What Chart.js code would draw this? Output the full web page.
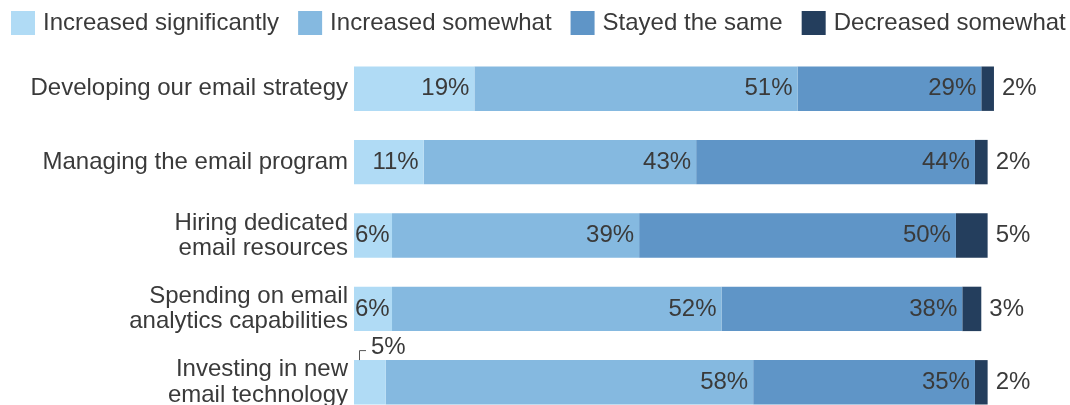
<!DOCTYPE html>
<html>
<head>
<meta charset="utf-8">
<title>Email program changes</title>
<script src="https://cdn.jsdelivr.net/npm/chart.js@4.4.1/dist/chart.umd.min.js"></script>
<style>
  html, body { margin: 0; padding: 0; background: #fff; overflow: hidden; }
  canvas { display: block; }
</style>
</head>
<body>
<canvas id="emailChart" width="1070" height="425" style="width:1070px;height:425px"></canvas>
<script>
const categories = [
  ["Developing our email strategy"],
  ["Managing the email program"],
  ["Hiring dedicated", "email resources"],
  ["Spending on email", "analytics capabilities"],
  ["Investing in new", "email technology"],
];
const seriesNames = ["Increased significantly", "Increased somewhat", "Stayed the same", "Decreased somewhat"];
const increasedSignificantly = [19, 11, 6, 6, 5];
const increasedSomewhat = [51, 43, 39, 52, 58];
const stayedTheSame = [29, 44, 50, 38, 35];
const decreasedSomewhat = [2, 2, 5, 3, 2];

const colors = ["#b0dbf5", "#85b9e0", "#5f95c7", "#243e5d"];
const textColor = "#3a3a3a";
const fontFamily = "'Liberation Sans', Arial, Helvetica, sans-serif";
const font = "24px " + fontFamily;

Chart.defaults.font.family = fontFamily;
Chart.defaults.font.size = 24;
Chart.defaults.color = textColor;

// legend drawn by hand so box/text spacing matches
const topLegend = {
  id: "topLegend",
  afterDraw(chart) {
    const ctx = chart.ctx;
    ctx.save();
    ctx.font = font;
    ctx.textBaseline = "middle";
    ctx.textAlign = "left";
    let x = 11;
    chart.data.datasets.forEach((ds) => {
      ctx.fillStyle = ds.backgroundColor;
      ctx.fillRect(x, 11, 24, 24);
      ctx.fillStyle = textColor;
      ctx.fillText(ds.label, x + 32, 23.5);
      x += 32 + ctx.measureText(ds.label).width + 19;
    });
    ctx.restore();
  },
};

// percent labels: inside for the first three series, outside for the last
const valueLabels = {
  id: "valueLabels",
  afterDatasetsDraw(chart) {
    const ctx = chart.ctx;
    const last = chart.data.datasets.length - 1;
    ctx.save();
    ctx.font = font;
    ctx.textBaseline = "middle";
    chart.data.datasets.forEach((ds, i) => {
      chart.getDatasetMeta(i).data.forEach((bar, j) => {
        const { x, base, y, height } = bar.getProps(["x", "base", "y", "height"], true);
        const text = ds.data[j] + "%";
        const w = ctx.measureText(text).width;
        ctx.fillStyle = textColor;
        if (i === last) {
          ctx.textAlign = "left";
          ctx.fillText(text, x + 8, y);
        } else if (w + 2 > x - base) {
          // too narrow: put it above with a small leader
          const top = y - height / 2;
          ctx.strokeStyle = "#555";
          ctx.lineWidth = 1;
          ctx.beginPath();
          ctx.moveTo(base + 5.5, top);
          ctx.lineTo(base + 5.5, top - 9.5);
          ctx.lineTo(base + 12, top - 9.5);
          ctx.stroke();
          ctx.textAlign = "left";
          ctx.fillText(text, base + 17, top - 13);
        } else {
          ctx.textAlign = "right";
          ctx.fillText(text, Math.max(x - 5, base + w + 1), y);
        }
      });
    });
    ctx.restore();
  },
};

const seriesData = [increasedSignificantly, increasedSomewhat, stayedTheSame, decreasedSomewhat];

new Chart(document.getElementById("emailChart"), {
  type: "bar",
  data: {
    labels: categories,
    datasets: seriesNames.map((name, i) => ({
      label: name,
      data: seriesData[i],
      backgroundColor: colors[i],
      borderWidth: 0,
      barPercentage: 1,
      categoryPercentage: 0.605,
    })),
  },
  options: {
    indexAxis: "y",
    responsive: false,
    animation: false,
    devicePixelRatio: 1,
    layout: {
      padding: { top: 52, left: 0, right: 0, bottom: 6 },
    },
    plugins: {
      legend: { display: false },
      tooltip: { enabled: false },
    },
    scales: {
      x: {
        stacked: true,
        display: false,
        min: 0,
        max: 113,
      },
      y: {
        stacked: true,
        grid: { display: false, drawTicks: false },
        border: { display: false },
        ticks: {
          color: textColor,
          padding: 6,
          font: { size: 24, lineHeight: 1.05 },
        },
        afterFit(scale) {
          scale.width = 354;
          // labels sit inside their bands, no extra room needed top/bottom
          scale.paddingTop = 0;
          scale.paddingBottom = 0;
        },
      },
    },
  },
  plugins: [topLegend, valueLabels],
});
</script>
</body>
</html>
